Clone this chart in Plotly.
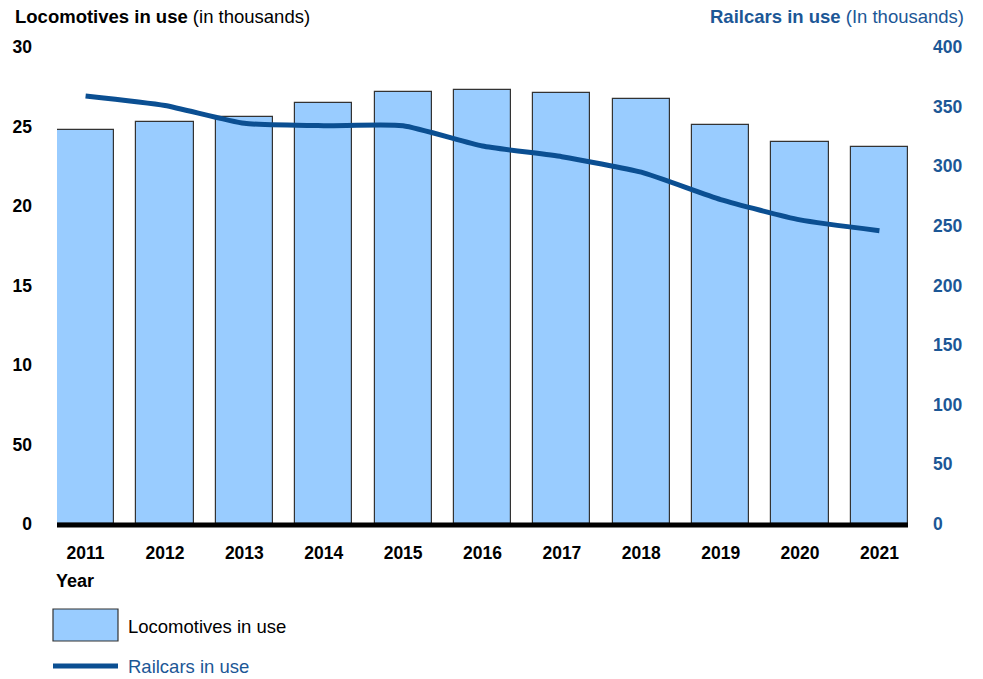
import plotly.graph_objects as go

years = ["2011", "2012", "2013", "2014", "2015", "2016", "2017", "2018", "2019", "2020", "2021"]
locomotives = [24.8, 25.3, 25.6, 26.5, 27.2, 27.3, 27.1, 26.7, 25.1, 24.0, 23.7]
railcars = [359, 351, 336, 334, 334, 317, 308, 295, 272, 255, 246]

left_tickvals = [0, 5, 10, 15, 20, 25, 30]
left_ticktext = ["0", "50", "10", "15", "20", "25", "30"]
right_tickvals = [0, 50, 100, 150, 200, 250, 300, 350, 400]

BAR_FILL = "#99ccff"
BAR_EDGE = "#333333"
LINE_BLUE = "#0b4f92"
AXIS_BLUE = "#1c5796"
FONT = "Liberation Sans, Arial, sans-serif"
PW, PH = 851, 477  # plot area size in px

fig = go.Figure()
fig.add_trace(go.Bar(
    x=list(range(len(years))), y=locomotives, width=0.72,
    marker=dict(color=BAR_FILL, line=dict(color=BAR_EDGE, width=1.2)),
    name="Locomotives in use", showlegend=False, yaxis="y",
))
fig.add_trace(go.Scatter(
    x=list(range(len(years))), y=railcars, mode="lines",
    line=dict(color=LINE_BLUE, width=5, shape="spline", smoothing=0.5),
    name="Railcars in use", showlegend=False, yaxis="y2",
))

fig.update_layout(
    width=983, height=679,
    margin=dict(l=57, r=75, t=47, b=155),
    paper_bgcolor="white", plot_bgcolor="white",
    font=dict(family=FONT, size=16, color="black"),
    bargap=0,
    xaxis=dict(
        range=[-0.36, len(years) - 1 + 0.36],
        tickvals=list(range(len(years))), ticktext=years,
        tickfont=dict(family=FONT, size=17.5, color="black", weight="bold"),
        showgrid=False, zeroline=False, showline=False, ticks="",
        ticklabelstandoff=16,
    ),
    yaxis=dict(
        range=[0, 30], tickvals=left_tickvals, ticktext=left_ticktext,
        tickfont=dict(family=FONT, size=17.5, color="black", weight="bold"),
        showgrid=False, zeroline=False, showline=False, ticks="",
        ticklabelstandoff=24,
    ),
    yaxis2=dict(
        range=[0, 400], tickvals=right_tickvals, overlaying="y", side="right",
        tickfont=dict(family=FONT, size=17.5, color=AXIS_BLUE, weight="bold"),
        showgrid=False, zeroline=False, showline=False, ticks="",
        ticklabelstandoff=24,
    ),
)

# Heavy baseline along zero
fig.add_shape(type="line", xref="paper", yref="paper", x0=0, x1=1, y0=-1 / PH, y1=-1 / PH,
              line=dict(color="black", width=5), layer="above")

# Axis titles
fig.add_annotation(xref="paper", yref="paper", x=-44 / PW, y=1 + 31 / PH,
                   xanchor="left", yanchor="middle", showarrow=False,
                   text="<b>Locomotives in use</b> (in thousands)",
                   font=dict(family=FONT, size=18.5, color="black"))
fig.add_annotation(xref="paper", yref="paper", x=1 + 58 / PW, y=1 + 31 / PH,
                   xanchor="right", yanchor="middle", showarrow=False,
                   text="<b>Railcars in use</b> (In thousands)",
                   font=dict(family=FONT, size=18.5, color=AXIS_BLUE))
fig.add_annotation(xref="paper", yref="paper", x=-3 / PW, y=-57 / PH,
                   xanchor="left", yanchor="middle", showarrow=False,
                   text="<b>Year</b>", font=dict(family=FONT, size=18, color="black"))

# Legend
fig.add_shape(type="rect", xref="paper", yref="paper",
              x0=-4 / PW, x1=61 / PW, y0=-117 / PH, y1=-85 / PH,
              fillcolor=BAR_FILL, line=dict(color=BAR_EDGE, width=1.2))
fig.add_annotation(xref="paper", yref="paper", x=69 / PW, y=-102 / PH,
                   xanchor="left", yanchor="middle", showarrow=False,
                   text="Locomotives in use", font=dict(family=FONT, size=18.5, color="black"))
fig.add_shape(type="line", xref="paper", yref="paper",
              x0=-4 / PW, x1=61 / PW, y0=-142 / PH, y1=-142 / PH,
              line=dict(color=LINE_BLUE, width=5))
fig.add_annotation(xref="paper", yref="paper", x=69 / PW, y=-142 / PH,
                   xanchor="left", yanchor="middle", showarrow=False,
                   text="Railcars in use", font=dict(family=FONT, size=18.5, color=AXIS_BLUE))

fig.write_html("out.html")
